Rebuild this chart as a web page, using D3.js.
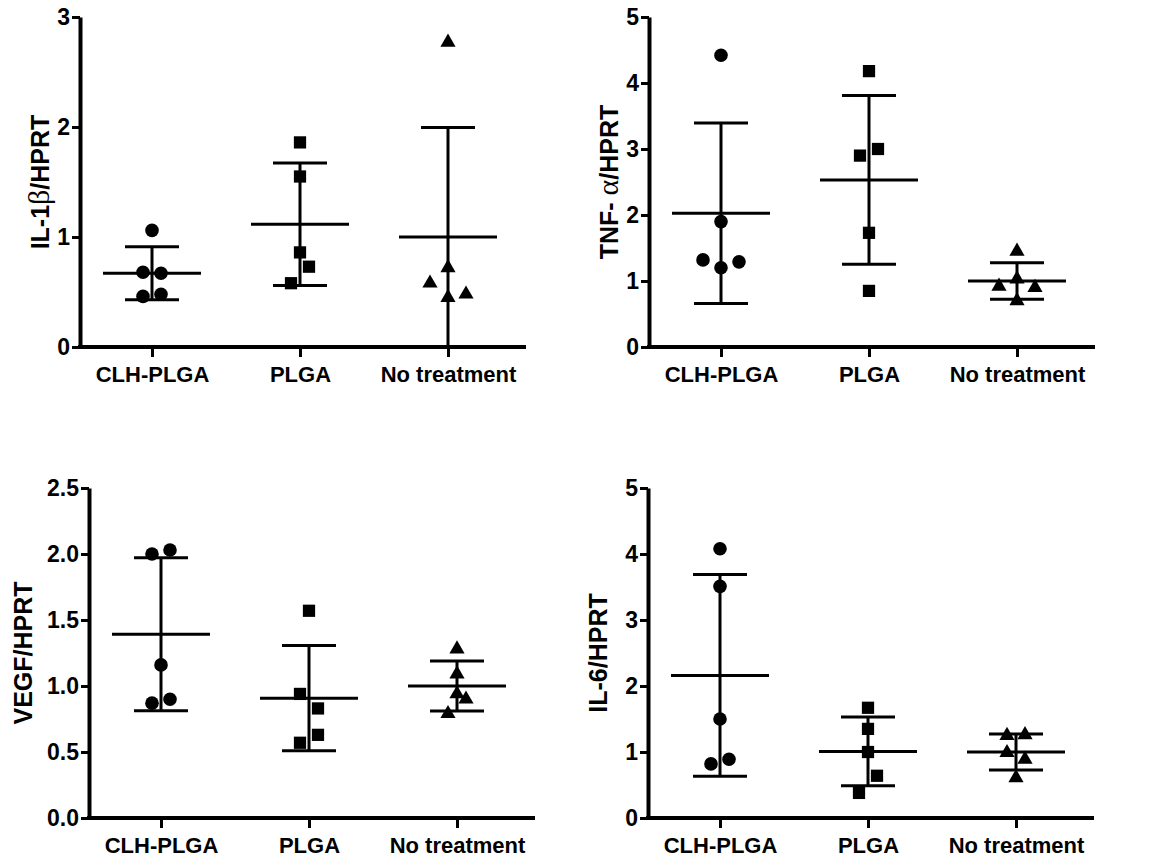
<!DOCTYPE html>
<html>
<head>
<meta charset="utf-8">
<script src="https://cdn.jsdelivr.net/npm/d3@7"></script>
<style>
  body { margin: 0; background: #fff; }
  text { font-family: "Liberation Sans", Arial, sans-serif; font-weight: bold; }
</style>
</head>
<body>
<div id="chart"></div>
<script>
const groups = ["CLH-PLGA", "PLGA", "No treatment"];

// IL-1β / HPRT
const il1bClh = [1.06, 0.68, 0.67, 0.46, 0.48];
const il1bPlga = [1.86, 1.55, 0.86, 0.58, 0.73];
const il1bNone = [2.77, 0.72, 0.58, 0.45, 0.48];
const il1bTicks = [0, 1, 2, 3];

// TNF-α / HPRT
const tnfClh = [4.42, 1.90, 1.32, 1.20, 1.29];
const tnfPlga = [4.18, 2.90, 3.00, 1.73, 0.85];
const tnfNone = [1.45, 0.92, 0.70, 0.90, 1.03];
const tnfTicks = [0, 1, 2, 3, 4, 5];

// VEGF / HPRT
const vegfClh = [2.00, 2.03, 1.16, 0.87, 0.90];
const vegfPlga = [1.57, 0.94, 0.83, 0.57, 0.63];
const vegfNone = [1.28, 1.09, 0.94, 0.79, 0.90];
const vegfTicks = [0, 0.5, 1.0, 1.5, 2.0, 2.5];

// IL-6 / HPRT
const il6Clh = [4.08, 3.51, 1.50, 0.82, 0.89];
const il6Plga = [1.67, 1.35, 1.00, 0.38, 0.64];
const il6None = [1.25, 1.26, 0.99, 0.89, 0.61];
const il6Ticks = [0, 1, 2, 3, 4, 5];

const panels = [
  { pre: "IL-1", greek: "β", post: "/HPRT", series: [il1bClh, il1bPlga, il1bNone], ticks: il1bTicks, fmt: d3.format("d"),
    left: 80, top: 17, labelX: -31 },
  { pre: "TNF- ", greek: "α", post: "/HPRT", series: [tnfClh, tnfPlga, tnfNone], ticks: tnfTicks, fmt: d3.format("d"),
    left: 649, top: 17, labelX: -31 },
  { pre: "VEGF/HPRT", greek: "", post: "", series: [vegfClh, vegfPlga, vegfNone], ticks: vegfTicks, fmt: d3.format(".1f"),
    left: 89, top: 488, labelX: -57 },
  { pre: "IL-6/HPRT", greek: "", post: "", series: [il6Clh, il6Plga, il6None], ticks: il6Ticks, fmt: d3.format("d"),
    left: 648, top: 488, labelX: -41 }
];

const plotH = 330, plotW = 446, firstCat = 72, catStep = 148;
const symbols = [
  d3.symbol().type(d3.symbolCircle).size(145)(),
  d3.symbol().type(d3.symbolSquare).size(150)(),
  d3.symbol().type(d3.symbolTriangle).size(100)()
];

const svg = d3.select("#chart").append("svg")
  .attr("width", 1155)
  .attr("height", 865);

// spread points that sit at nearly the same height side by side
function swarm(vals, y, gap, step) {
  const order = vals.map((v, i) => i).sort((a, b) => vals[a] - vals[b]);
  const rows = [];
  let cur = null;
  order.forEach(i => {
    if (cur && Math.abs(y(vals[i]) - y(vals[cur[0]])) <= gap) cur.push(i);
    else { cur = [i]; rows.push(cur); }
  });
  const off = [];
  rows.forEach(r => {
    r.sort((a, b) => a - b);
    r.forEach((i, k) => { off[i] = (k - (r.length - 1) / 2) * step; });
  });
  return off;
}

panels.forEach(p => {
  const g = svg.append("g").attr("transform", `translate(${p.left},${p.top})`);

  const y = d3.scaleLinear()
    .domain([0, d3.max(p.ticks)])
    .range([plotH, 0]);
  const x = d3.scalePoint()
    .domain(groups)
    .range([firstCat, firstCat + 2 * catStep]);

  // error bars: mean and SD
  p.series.forEach((vals, gi) => {
    const cx = x(groups[gi]);
    const m = d3.mean(vals), sd = d3.deviation(vals);
    const bars = g.append("g").attr("stroke", "#000").attr("stroke-width", 3);
    bars.append("line").attr("x1", cx).attr("x2", cx).attr("y1", y(m + sd)).attr("y2", y(Math.max(0, m - sd)));
    bars.append("line").attr("x1", cx - 49).attr("x2", cx + 49).attr("y1", y(m)).attr("y2", y(m));
    [m + sd, Math.max(0, m - sd)].forEach(v => {
      bars.append("line").attr("x1", cx - 27).attr("x2", cx + 27).attr("y1", y(v)).attr("y2", y(v));
    });

    const off = swarm(vals, y, 18, 18);
    g.selectAll(null)
      .data(vals)
      .join("path")
      .attr("d", symbols[gi])
      .attr("fill", "#000")
      .attr("transform", (d, i) => `translate(${cx + off[i]},${y(d)})`);
  });

  // axes
  const yAxis = g.append("g")
    .call(d3.axisLeft(y).tickValues(p.ticks).tickFormat(p.fmt).tickSize(8).tickSizeOuter(0).tickPadding(2));
  yAxis.select(".domain").attr("stroke-width", 4).attr("stroke", "#000");
  yAxis.selectAll(".tick line").attr("stroke-width", 3).attr("stroke", "#000");
  yAxis.selectAll(".tick text").attr("font-size", 23).attr("fill", "#000");

  const xAxis = g.append("g")
    .attr("transform", `translate(0,${plotH})`)
    .call(d3.axisBottom(x).tickSize(10).tickSizeOuter(0).tickPadding(9));
  xAxis.select(".domain").remove();
  xAxis.insert("line", ":first-child")
    .attr("x1", -2).attr("x2", plotW).attr("y1", 0).attr("y2", 0)
    .attr("stroke", "#000").attr("stroke-width", 4);
  xAxis.selectAll(".tick line").attr("stroke-width", 3).attr("stroke", "#000");
  xAxis.selectAll(".tick text").attr("font-size", 22).attr("fill", "#000");

  // y title
  const t = g.append("text")
    .attr("transform", `translate(${p.labelX},${plotH / 2}) rotate(-90)`)
    .attr("text-anchor", "middle")
    .attr("font-size", 25)
    .attr("fill", "#000");
  t.append("tspan").text(p.pre);
  if (p.greek) {
    t.append("tspan")
      .style("font-family", "'Liberation Serif', serif")
      .style("font-weight", "normal")
      .attr("font-size", 30)
      .text(p.greek);
    t.append("tspan").text(p.post);
  }
});
</script>
</body>
</html>
